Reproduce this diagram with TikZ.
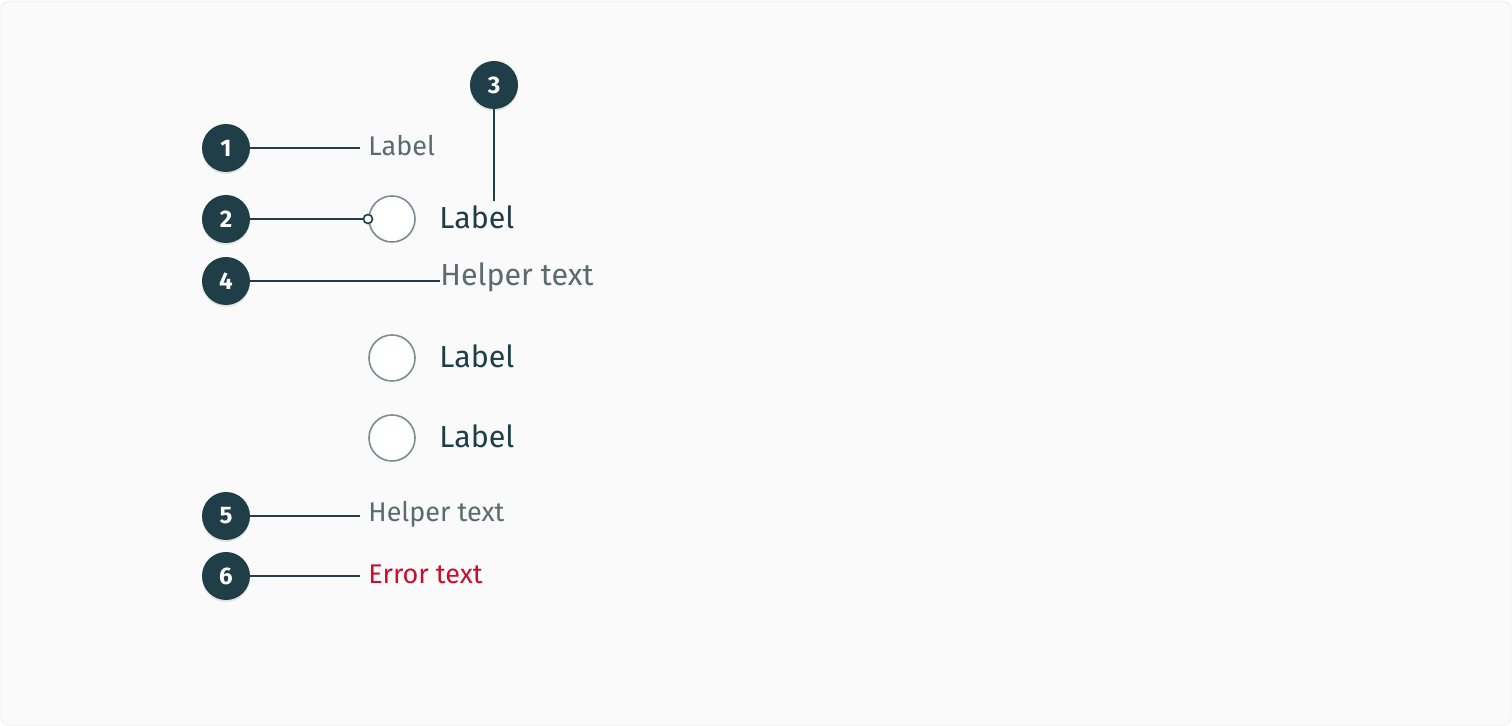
\documentclass[tikz,border=0pt]{standalone}
\usepackage{fontspec}
\setmainfont{Fira Sans}
\usepackage{tikz}
\usetikzlibrary{shapes,shadows}

\definecolor{badgecol}{HTML}{1F3E48}
\definecolor{labelcol}{HTML}{1F3E48}
\definecolor{helpcol}{HTML}{596B71}
\definecolor{ringcol}{HTML}{7C8B90}
\definecolor{errcol}{HTML}{C8102E}
\definecolor{pagecol}{HTML}{FAFAFA}
\definecolor{edgecol}{HTML}{ECECEC}

\tikzset{
  badge/.style={circle,fill=badgecol,text=white,inner sep=0pt,minimum size=24pt,
    font=\fontsize{12}{12}\selectfont\bfseries,
    drop shadow={shadow xshift=0pt,shadow yshift=-1pt,opacity=0.18}},
  pointer/.style={draw=badgecol,line width=1pt},
  ring/.style={circle,draw=ringcol,line width=0.8pt,fill=white,inner sep=0pt,minimum size=23pt},
  tip/.style={circle,draw=badgecol,line width=0.8pt,fill=white,inner sep=0pt,minimum size=4.5pt},
  smalltext/.style={anchor=west,inner xsep=4pt,inner ysep=0pt,font=\fontsize{13.5}{13.5}\selectfont},
  bigtext/.style={anchor=west,inner xsep=0pt,inner ysep=0pt,font=\fontsize{15.2}{15.2}\selectfont}
}

\begin{document}
\begin{tikzpicture}[x=0.5pt,y=-0.5pt]
  \useasboundingbox (0,0) rectangle (1512,726);
  \draw[edgecol,fill=pagecol,rounded corners=4pt] (1,1) rectangle (1511,725);

  % radio buttons with their labels
  \node[ring] (r1) at (392,219) {};
  \node[ring] (r2) at (392,358) {};
  \node[ring] (r3) at (392,438) {};
  \node[bigtext,text=labelcol] (l1) at (439,217) {Label};
  \node[bigtext,text=labelcol] (l2) at (439,356) {Label};
  \node[bigtext,text=labelcol] (l3) at (439,436) {Label};

  % texts the badges point at
  \node[smalltext,text=helpcol] (t1) at (360,146) {Label};
  \node[bigtext,text=helpcol] (t4) at (440,277) {Helper text};
  \node[smalltext,text=helpcol] (t5) at (360,514) {Helper text};
  \node[smalltext,text=errcol] (t6) at (360,574) {Error text};
  \coordinate (c3) at (494,201);

  % numbered badges
  \node[badge] (b1) at (226,148) {1};
  \node[badge] (b2) at (226,219) {2};
  \node[badge] (b3) at (494,85) {3};
  \node[badge] (b4) at (226,281) {4};
  \node[badge] (b5) at (226,516) {5};
  \node[badge] (b6) at (226,576) {6};

  % pointers
  \draw[pointer] (b1.east) -- (b1.east -| t1.west);
  \node[tip] (d2) at (368,219) {};
  \draw[pointer] (b2.east) -- (d2.west);
  \draw[pointer] (b3.south) -- (c3);
  \draw[pointer] (b4.east) -- (b4.east -| t4.west);
  \draw[pointer] (b5.east) -- (b5.east -| t5.west);
  \draw[pointer] (b6.east) -- (b6.east -| t6.west);
\end{tikzpicture}
\end{document}
